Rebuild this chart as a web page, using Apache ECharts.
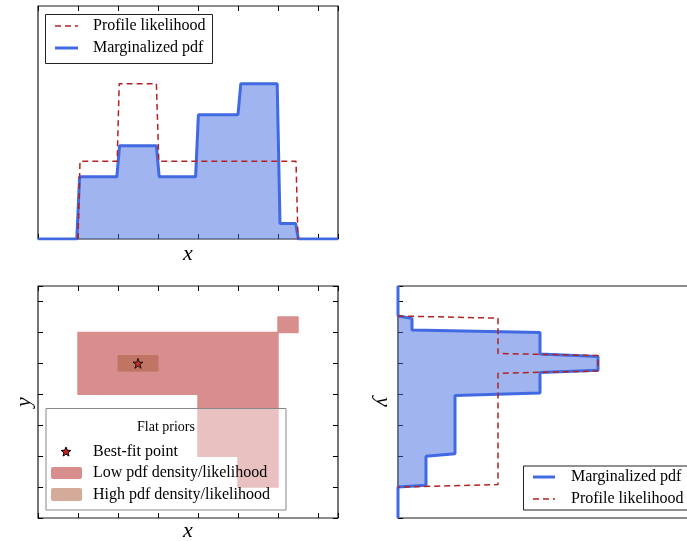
<!DOCTYPE html>
<html><head><meta charset="utf-8">
<script src="https://cdn.jsdelivr.net/npm/echarts@6/dist/echarts.min.js"></script>
<style>html,body{margin:0;padding:0;background:#fff;} #c{width:687px;height:541px;}</style>
</head><body><div id="c"></div>
<script>
// ---- data ----
const margXPos = [0, 0.97, 1.04, 1.97, 2.04, 2.96, 3.03, 3.94, 4.01, 5.0, 5.07, 5.98, 6.05, 6.44, 6.51, 7.5];
const margXPdf = [0, 0, 0.4, 0.4, 0.6, 0.6, 0.4, 0.4, 0.8, 0.8, 1.0, 1.0, 0.1, 0.1, 0, 0];
const profXPos = [1.0, 1.05, 1.98, 2.03, 2.96, 3.02, 6.45, 6.5];
const profXLik = [0, 0.5, 0.5, 1.0, 1.0, 0.5, 0.5, 0];
const margYPos = [7.5, 6.53, 6.45, 6.08, 6.0, 5.3, 5.22, 4.78, 4.7, 4.04, 3.96, 2.08, 2.0, 1.06, 1.0, 0];
const margYPdf = [0, 0, 0.07, 0.07, 0.71, 0.71, 1.0, 1.0, 0.71, 0.71, 0.285, 0.285, 0.14, 0.14, 0, 0];
const profYPos = [6.53, 6.46, 5.32, 5.25, 4.75, 4.68, 1.08, 1.0];
const profYLik = [0, 0.5, 0.5, 1.0, 1.0, 0.5, 0.5, 0];
const lowRegionX = [1, 6, 6, 5, 5, 4, 4, 1];
const lowRegionY = [6, 6, 1, 1, 2, 2, 4, 4];
const lowSquareX = [6, 6.5, 6.5, 6];
const lowSquareY = [6, 6, 6.5, 6.5];
const highRegionX = [2, 3, 3, 2];
const highRegionY = [4.75, 4.75, 5.25, 5.25];
const bestFit = [2.5, 5.0];
const paramRange = [0, 7.5];
const densRange = [0, 1.5];

// ---- styles ----
const BLUE = '#4169e1', RED = '#b22222';
const LOW = '#d98e8e', HIGH_ON_LOW = '#c07464', HIGH_PATCH = '#d4aa98';
const FONT = 'Liberation Serif';
const zip = (a, b) => a.map((v, i) => [v, b[i]]);
const STAR = 'path://M50,0 L61.2,34.5 L97.6,34.5 L68.2,55.9 L79.4,90.5 L50,69.1 L20.6,90.5 L31.8,55.9 L2.4,34.5 L38.8,34.5 Z';

const mkTick = () => ({show: true, inside: true, length: 5, lineStyle: {color: '#000', width: 1}});
const mkName = () => ({fontFamily: FONT, fontStyle: 'italic', fontSize: 22, color: '#000'});
function paramAxis(extra) {
  return Object.assign({type: 'value', min: paramRange[0], max: paramRange[1], interval: 1,
    axisLine: {show: false, onZero: false}, axisTick: mkTick(), axisLabel: {show: false, inside: true}, splitLine: {show: false}}, extra);
}
function densAxis(extra) {
  return Object.assign({type: 'value', min: densRange[0], max: densRange[1],
    axisLine: {show: false, onZero: false}, axisTick: {show: false}, axisLabel: {show: false}, splitLine: {show: false}}, extra);
}
function polyRender(xs, ys, fill, stroke, lw) {
  return function (params, api) {
    const pts = xs.map((x, i) => api.coord([x, ys[i]]));
    return {type: 'polygon', shape: {points: pts},
      style: {fill: fill, stroke: stroke || null, lineWidth: lw || 0, lineJoin: 'round'}};
  };
}
function starPoints(cx, cy, r) {
  const p = [];
  for (let i = 0; i < 10; i++) {
    const a = -Math.PI / 2 + i * Math.PI / 5;
    const rr = i % 2 ? r * 0.45 : r;
    p.push([cx + rr * Math.cos(a), cy + rr * Math.sin(a)]);
  }
  return p;
}
const txt = (x, y, s, size, align) => ({type: 'text', x: x, y: y, z: 101,
  style: {text: s, fontFamily: FONT, fontSize: size || 16, fill: '#000', verticalAlign: 'middle', align: align || 'left'}});
const seg = (x1, y1, x2, y2, color, w, dash) => ({type: 'line', z: 101,
  shape: {x1: x1, y1: y1, x2: x2, y2: y2}, style: {stroke: color, lineWidth: w, lineDash: dash || null}});

const gridStyle = () => ({show: true, borderColor: '#1a1a1a', borderWidth: 1.2, backgroundColor: 'transparent',
  containLabel: false, outerBoundsMode: 'none'});
const option = {
  animation: false,
  backgroundColor: '#fff',
  grid: [
    Object.assign({left: 38, top: 6, width: 300, height: 233}, gridStyle()),
    Object.assign({left: 38, top: 286, width: 300, height: 232}, gridStyle()),
    Object.assign({left: 398, top: 286, width: 300, height: 232}, gridStyle())
  ],
  xAxis: [
    paramAxis({gridIndex: 0, position: 'bottom', name: 'x', nameLocation: 'middle', nameGap: 4, nameTextStyle: mkName()}),
    paramAxis({gridIndex: 0, position: 'top'}),
    paramAxis({gridIndex: 1, position: 'bottom', name: 'x', nameLocation: 'middle', nameGap: 2, nameTextStyle: mkName()}),
    paramAxis({gridIndex: 1, position: 'top'}),
    densAxis({gridIndex: 2, position: 'bottom'})
  ],
  yAxis: [
    densAxis({gridIndex: 0}),
    paramAxis({gridIndex: 1, position: 'left', name: 'y', nameLocation: 'middle', nameGap: 3, nameRotate: 90, nameTextStyle: mkName()}),
    paramAxis({gridIndex: 1, position: 'right'}),
    paramAxis({gridIndex: 2, position: 'left', name: 'y', nameLocation: 'middle', nameGap: 4, nameRotate: -90, nameTextStyle: mkName()})
  ],
  series: [
    {type: 'line', name: 'Marginalized pdf', xAxisIndex: 0, yAxisIndex: 0, data: zip(margXPos, margXPdf),
      symbol: 'none', lineStyle: {color: BLUE, width: 3}, areaStyle: {color: BLUE, opacity: 0.5}, z: 2},
    {type: 'line', name: 'Profile likelihood', xAxisIndex: 0, yAxisIndex: 0, data: zip(profXPos, profXLik),
      symbol: 'none', lineStyle: {color: RED, width: 1.5, type: [6, 4]}, z: 3},

    {type: 'custom', xAxisIndex: 2, yAxisIndex: 1, data: [[lowRegionX[0], lowRegionY[0]]],
      renderItem: polyRender(lowRegionX, lowRegionY, LOW, LOW, 1.5), z: 2},
    {type: 'custom', xAxisIndex: 2, yAxisIndex: 1, data: [[lowSquareX[0], lowSquareY[0]]],
      renderItem: polyRender(lowSquareX, lowSquareY, LOW, LOW, 1.5), z: 2},
    {type: 'custom', xAxisIndex: 2, yAxisIndex: 1, data: [[highRegionX[0], highRegionY[0]]],
      renderItem: polyRender(highRegionX, highRegionY, HIGH_ON_LOW, HIGH_ON_LOW, 1), z: 3},
    {type: 'scatter', xAxisIndex: 2, yAxisIndex: 1, data: [bestFit], symbol: STAR, symbolSize: 10,
      itemStyle: {color: '#c62020', borderColor: '#000', borderWidth: 1}, z: 4},

    {type: 'custom', xAxisIndex: 4, yAxisIndex: 3, data: [[margYPdf[0], margYPos[0]]],
      renderItem: polyRender(margYPdf, margYPos, 'rgba(65,105,225,0.5)'), z: 1},
    {type: 'line', xAxisIndex: 4, yAxisIndex: 3, data: zip(margYPdf, margYPos),
      symbol: 'none', lineStyle: {color: BLUE, width: 3}, z: 2},
    {type: 'line', xAxisIndex: 4, yAxisIndex: 3, data: zip(profYLik, profYPos),
      symbol: 'none', lineStyle: {color: RED, width: 1.5, type: [6, 4]}, z: 3}
  ],
  graphic: [
    // top legend
    {type: 'rect', z: 100, shape: {x: 45.5, y: 14.5, width: 167, height: 49}, style: {fill: '#fff', stroke: '#222', lineWidth: 1}},
    seg(55, 26, 78, 26, RED, 1.5, [6, 4]),
    txt(93, 26, 'Profile likelihood'),
    seg(55, 48, 78, 48, BLUE, 3),
    txt(93, 48, 'Marginalized pdf'),
    // 2D legend
    {type: 'rect', z: 100, shape: {x: 46, y: 408.5, width: 240, height: 101.5}, style: {fill: 'rgba(255,255,255,0.45)', stroke: '#888', lineWidth: 1}},
    txt(166, 427, 'Flat priors', 14, 'center'),
    {type: 'polygon', z: 101, shape: {points: starPoints(66, 452, 5)}, style: {fill: '#c62020', stroke: '#000', lineWidth: 1}},
    txt(93, 452, 'Best-fit point'),
    {type: 'rect', z: 101, shape: {x: 51, y: 467, width: 31, height: 12, r: 2}, style: {fill: LOW}},
    txt(93, 473, 'Low pdf density/likelihood'),
    {type: 'rect', z: 101, shape: {x: 51, y: 488, width: 31, height: 13, r: 2}, style: {fill: HIGH_PATCH}},
    txt(93, 495, 'High pdf density/likelihood'),
    // right legend
    {type: 'rect', z: 100, shape: {x: 523.5, y: 466, width: 200, height: 44}, style: {fill: '#fff', stroke: '#222', lineWidth: 1}},
    seg(533, 477, 555, 477, BLUE, 3),
    txt(571, 477, 'Marginalized pdf'),
    seg(533, 499, 555, 499, RED, 1.5, [6, 4]),
    txt(571, 499, 'Profile likelihood')
  ]
};
const chart = echarts.init(document.getElementById('c'), null, {renderer: 'canvas'});
chart.setOption(option);
</script>
</body></html>
